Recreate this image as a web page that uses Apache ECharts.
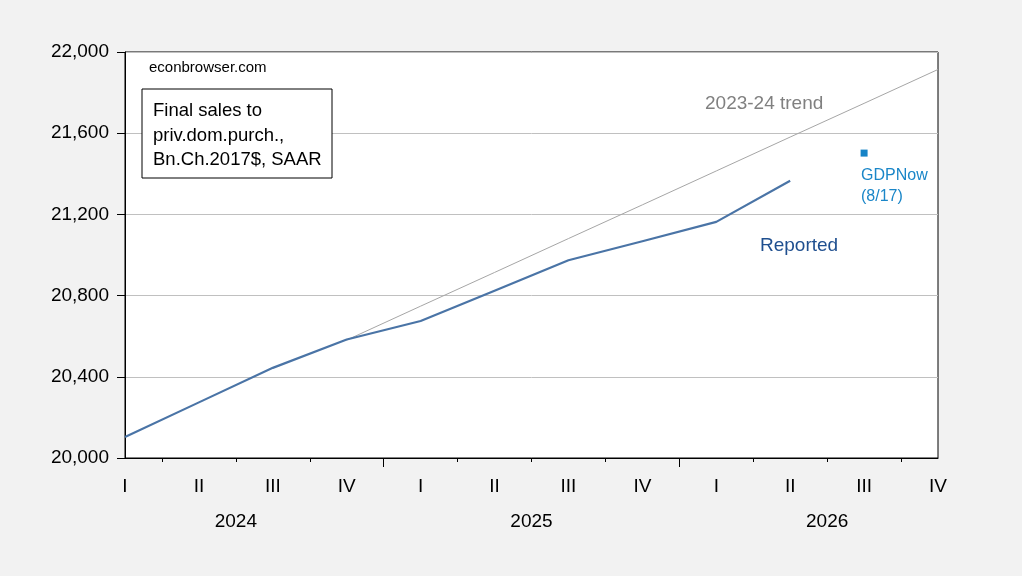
<!DOCTYPE html>
<html>
<head>
<meta charset="utf-8">
<script src="https://cdn.jsdelivr.net/npm/echarts@6/dist/echarts.min.js"></script>
<style>
html, body { margin: 0; padding: 0; background: #f2f2f2; }
#chart { width: 1022px; height: 576px; }
</style>
</head>
<body>
<div id="chart"></div>
<script>
var quarters = ['I', 'II', 'III', 'IV', 'I', 'II', 'III', 'IV', 'I', 'II', 'III', 'IV'];
var years = ['2024', '2025', '2026'];
var reported = [20104, 20274, 20444, 20584, 20675, 20824, 20974, 21068, 21163, 21366, null, null];
var trend = [null, null, null, 20581, 20748, 20914, 21081, 21247, 21414, 21581, 21747, 21914];
var gdpnow = [null, null, null, null, null, null, null, null, null, null, 21502, null];
var yTicks = [20000, 20400, 20800, 21200, 21600, 22000];

var font = "'Liberation Sans', Arial, sans-serif";
var myChart = echarts.init(document.getElementById('chart'));

// tick positions between quarters, year separators, year label positions
var quarterTicks = [];
for (var i = 0; i < quarters.length - 1; i++) quarterTicks.push(i + 0.5);
var yearTicks = [3.5, 7.5];
var yearPos = [1.5, 5.5, 9.5];

var option = {
    backgroundColor: '#f2f2f2',
    animation: false,
    grid: {
        left: 125, right: 84, top: 52, bottom: 118,
        show: true, backgroundColor: '#ffffff', borderColor: '#000000', borderWidth: 1
    },
    xAxis: [
        {
            type: 'category',
            position: 'bottom',
            data: quarters,
            boundaryGap: false,
            axisLine: { lineStyle: { color: '#000', width: 1 } },
            axisTick: { show: false },
            axisLabel: { interval: 0, margin: 19, color: '#000', fontSize: 19, fontFamily: font }
        },
        {
            type: 'value',
            position: 'bottom',
            min: 0, max: quarters.length - 1,
            axisLine: { show: false },
            splitLine: { show: false },
            axisTick: { show: true, length: 4, customValues: quarterTicks, lineStyle: { color: '#000' } },
            axisLabel: { show: false }
        },
        {
            type: 'value',
            position: 'bottom',
            min: 0, max: quarters.length - 1,
            axisLine: { show: false },
            splitLine: { show: false },
            axisTick: { show: true, length: 9, customValues: yearTicks, lineStyle: { color: '#000' } },
            axisLabel: {
                show: true, customValues: yearPos, margin: 54, color: '#000', fontSize: 19, fontFamily: font,
                formatter: function (v) { return years[yearPos.indexOf(v)]; }
            }
        }
    ],
    yAxis: {
        type: 'value',
        min: yTicks[0], max: yTicks[yTicks.length - 1], interval: 400,
        axisLine: { show: true, lineStyle: { color: '#000' } },
        axisTick: { show: true, length: 8, lineStyle: { color: '#000' } },
        splitLine: { show: true, lineStyle: { color: '#c0c0c0', width: 1 } },
        axisLabel: {
            margin: 16, color: '#000', fontSize: 19, fontFamily: font,
            formatter: function (v) { return v.toLocaleString('en-US'); }
        }
    },
    series: [
        {
            name: '2023-24 trend',
            type: 'line',
            data: trend,
            showSymbol: false,
            lineStyle: { color: '#a6a6a6', width: 1 },
            z: 2
        },
        {
            name: 'Reported',
            type: 'line',
            data: reported,
            showSymbol: false,
            lineStyle: { color: '#4a74a6', width: 2.2 },
            z: 3
        },
        {
            name: 'GDPNow',
            type: 'scatter',
            data: gdpnow,
            symbol: 'rect',
            symbolSize: 7,
            itemStyle: { color: '#1683c6', opacity: 1 },
            z: 4
        }
    ],
    graphic: [
        {
            type: 'text', left: 149, top: 60,
            style: { text: 'econbrowser.com', fill: '#000', font: '15px ' + font }
        },
        {
            type: 'rect', shape: { x: 142, y: 89, width: 190, height: 89 },
            style: { fill: '#ffffff', stroke: '#000', lineWidth: 1 }, z: 10
        },
        {
            type: 'text', left: 153, top: 99, z: 11,
            style: {
                text: 'Final sales to\npriv.dom.purch.,\nBn.Ch.2017$, SAAR',
                fill: '#000', font: '18.5px ' + font, lineHeight: 24.5
            }
        },
        {
            type: 'text', left: 705, top: 94,
            style: { text: '2023-24 trend', fill: '#808080', font: '19px ' + font }
        },
        {
            type: 'text', left: 760, top: 236,
            style: { text: 'Reported', fill: '#1f4f8f', font: '19px ' + font }
        },
        {
            type: 'text', left: 861, top: 165,
            style: { text: 'GDPNow\n(8/17)', fill: '#1a86c8', font: '16px ' + font, lineHeight: 21 }
        }
    ]
};
myChart.setOption(option);
</script>
</body>
</html>
